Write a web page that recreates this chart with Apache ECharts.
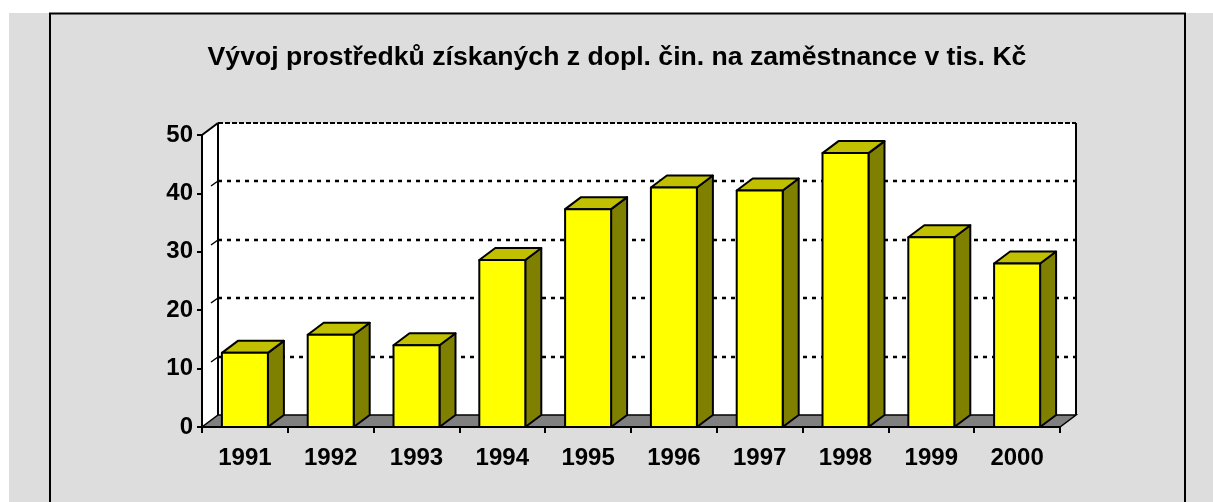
<!DOCTYPE html>
<html>
<head>
<meta charset="utf-8">
<script src="https://cdn.jsdelivr.net/npm/echarts@6/dist/echarts.min.js"></script>
<style>
  html, body { margin: 0; padding: 0; background: #ffffff; }
  #chart { width: 1213px; height: 502px; }
</style>
</head>
<body>
<div id="chart"></div>
<script>
// Data
const years = ['1991', '1992', '1993', '1994', '1995', '1996', '1997', '1998', '1999', '2000']
const values = [12.7, 15.8, 14.0, 28.6, 37.3, 41.0, 40.5, 46.9, 32.5, 28.0]
const gridTicks = [10, 20, 30, 40]

const FONT = '"Liberation Sans", Arial, sans-serif'
// 3D depth offset of the walls and columns
const DX = 16
const DY = 12
const BAR_RATIO = 0.536

const chart = echarts.init(document.getElementById('chart'))

// Back wall, side wall, floor and dashed gridlines
const renderWalls = (params, api) => {
  const cs = params.coordSys
  const xl = cs.x
  const xr = cs.x + cs.width
  const yt = cs.y
  const yb = cs.y + cs.height
  const children = [
    { type: 'rect', shape: { x: xl + DX, y: yt - DY, width: cs.width, height: cs.height },
      style: { fill: '#ffffff', stroke: null } },
    { type: 'polygon', shape: { points: [[xl, yt], [xl + DX, yt - DY], [xl + DX, yb - DY], [xl, yb]] },
      style: { fill: '#ffffff', stroke: null } },
    // back wall edges
    { type: 'line', shape: { x1: xl + DX, y1: yt - DY, x2: xl + DX, y2: yb - DY },
      style: { stroke: '#000', lineWidth: 2 } },
    { type: 'line', shape: { x1: xr + DX, y1: yt - DY, x2: xr + DX, y2: yb - DY },
      style: { stroke: '#000', lineWidth: 2 } },
    { type: 'line', shape: { x1: xl + DX, y1: yt - DY, x2: xr + DX, y2: yt - DY },
      style: { stroke: '#000', lineWidth: 2, lineDash: [5, 2] } },
    { type: 'line', shape: { x1: xl, y1: yt, x2: xl + DX, y2: yt - DY },
      style: { stroke: '#000', lineWidth: 2 } }
  ]
  gridTicks.forEach((v) => {
    const y = Math.round(api.coord([0, v])[1])
    children.push({ type: 'line', shape: { x1: xl + DX, y1: y - DY, x2: xr + DX, y2: y - DY },
      style: { stroke: '#000', lineWidth: 2.5, lineDash: [4, 5] } })
    children.push({ type: 'line', shape: { x1: xl + 9, y1: y - 7, x2: xl + DX, y2: y - DY },
      style: { stroke: '#000', lineWidth: 1.5 } })
  })
  // floor
  children.push({ type: 'polygon',
    shape: { points: [[xl, yb], [xr, yb], [xr + DX, yb - DY], [xl + DX, yb - DY]] },
    style: { fill: '#808080', stroke: '#000', lineWidth: 1.5 } })
  return { type: 'group', children }
}

// 3D column: front face, top and right side
const renderBar = (params, api) => {
  const idx = api.value(0)
  const top = api.coord([idx, api.value(1)])
  const base = api.coord([idx, 0])
  const w = api.size([1, 0])[0] * BAR_RATIO
  const x0 = top[0] - w / 2
  const x1 = top[0] + w / 2
  const y0 = top[1]
  const y1 = base[1]
  const edge = { stroke: '#000', lineWidth: 2, lineJoin: 'round' }
  return {
    type: 'group',
    children: [
      { type: 'polygon', shape: { points: [[x1, y0], [x1 + DX, y0 - DY], [x1 + DX, y1 - DY], [x1, y1]] },
        style: { fill: '#808000', ...edge } },
      { type: 'polygon', shape: { points: [[x0, y0], [x1, y0], [x1 + DX, y0 - DY], [x0 + DX, y0 - DY]] },
        style: { fill: '#c0c000', ...edge } },
      { type: 'rect', shape: { x: x0, y: y0, width: w, height: y1 - y0 },
        style: { fill: '#ffff00', ...edge } }
    ]
  }
}

const option = {
  animation: false,
  backgroundColor: '#ffffff',
  textStyle: { fontFamily: FONT },
  graphic: [
    { type: 'rect', z: -10, shape: { x: 9, y: 13, width: 1210, height: 500 },
      style: { fill: '#dddddd' } },
    { type: 'rect', z: -9, shape: { x: 50, y: 13.5, width: 1135, height: 500 },
      style: { fill: null, stroke: '#000', lineWidth: 2 } },
    { type: 'text', x: 617, y: 58, z: 5,
      style: { text: 'Vývoj prostředků získaných z dopl. čin. na zaměstnance v tis. Kč',
        fill: '#000', font: 'bold 26.6px ' + FONT, textAlign: 'center', textVerticalAlign: 'middle' } }
  ],
  grid: { left: 202, top: 135, width: 858, height: 292 },
  xAxis: {
    type: 'category',
    data: years,
    z: 10,
    axisLine: { lineStyle: { color: '#000', width: 2 } },
    axisTick: { show: true, length: 6, lineStyle: { color: '#000', width: 2 } },
    axisLabel: { color: '#000', fontWeight: 'bold', fontSize: 24, margin: 19, fontFamily: FONT }
  },
  yAxis: {
    type: 'value',
    min: 0,
    max: 50,
    interval: 10,
    z: 10,
    axisLine: { show: true, lineStyle: { color: '#000', width: 2 } },
    axisTick: { show: true, length: 5, lineStyle: { color: '#000', width: 2 } },
    axisLabel: { color: '#000', fontWeight: 'bold', fontSize: 24, margin: 9, fontFamily: FONT },
    splitLine: { show: false }
  },
  series: [
    {
      type: 'custom',
      z: 1,
      silent: true,
      renderItem: renderWalls,
      data: [[0, 0]],
      encode: { x: 0, y: 1 }
    },
    {
      type: 'custom',
      z: 3,
      renderItem: renderBar,
      data: values.map((v, i) => [i, v]),
      encode: { x: 0, y: 1 }
    }
  ]
}

chart.setOption(option)
</script>
</body>
</html>
